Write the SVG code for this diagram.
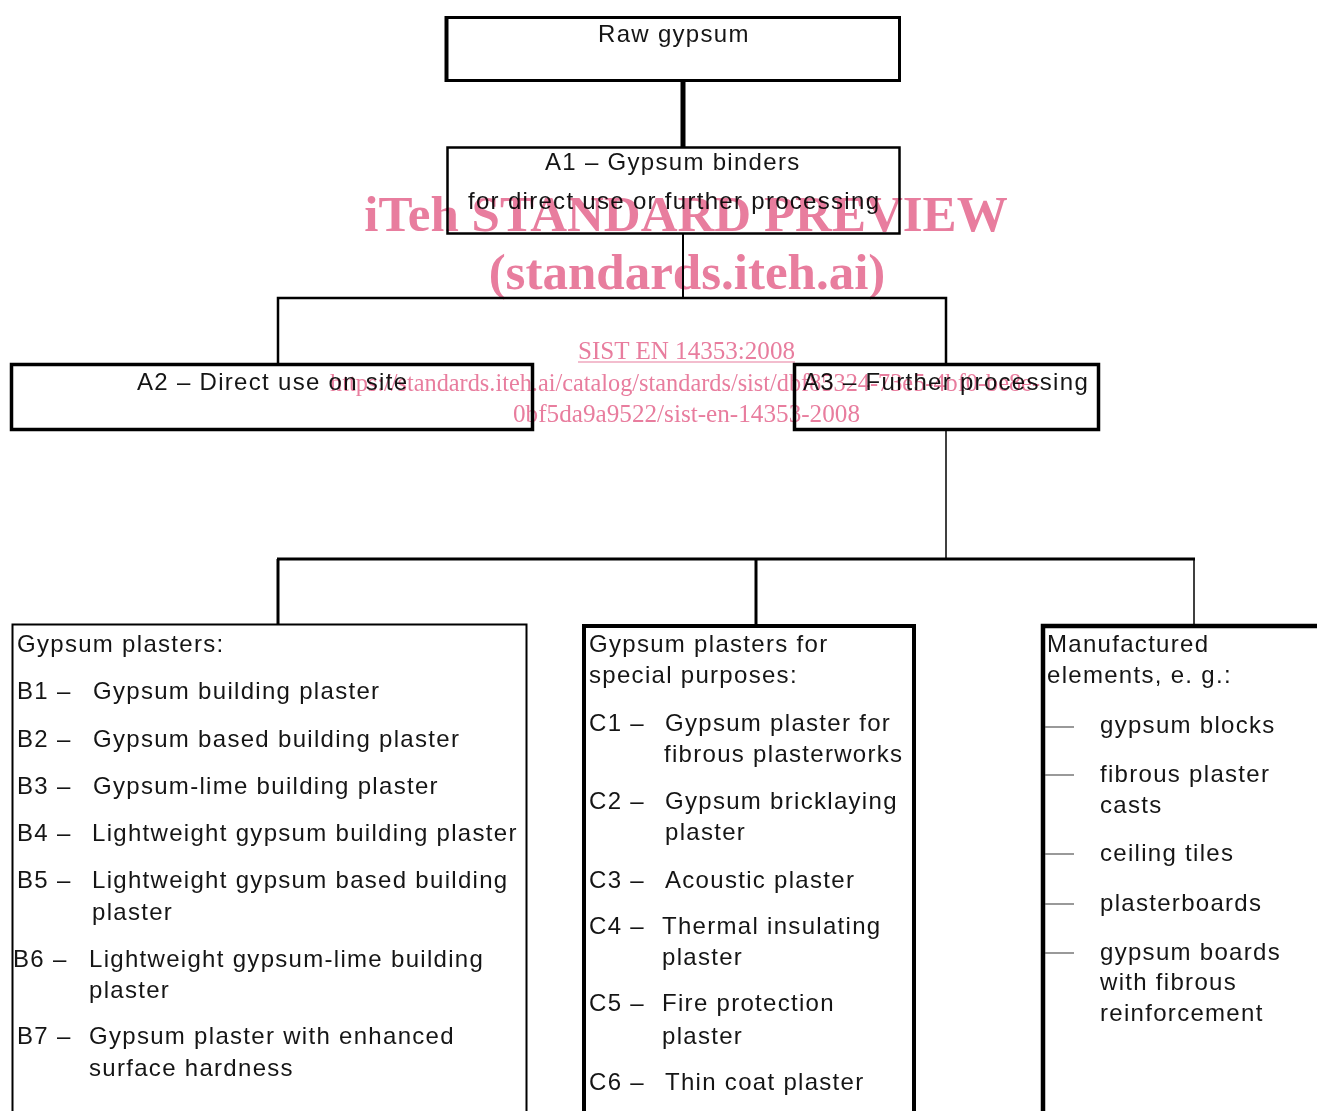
<svg xmlns="http://www.w3.org/2000/svg" width="1317" height="1111" viewBox="0 0 1317 1111">
<style>
  .t { font-family: "Liberation Sans", Arial, sans-serif; font-size: 24px; letter-spacing: 1.3px; fill: #151515; }
  .box { fill: #fff; stroke: #000; }
  .ln { stroke: #000; fill: none; }
  .dash { stroke: #555; stroke-width: 1.2; }
  .wm { font-family: "Liberation Serif", "Times New Roman", serif; fill: #E87D9E; }
  .wmb { font-weight: bold; font-size: 51px; }
  .wms { font-size: 25px; }
  #watermark { mix-blend-mode: multiply; }
</style>
<rect width="1317" height="1111" fill="#fff"/>
<g id="connectors">
  <line class="ln" x1="683" y1="81" x2="683" y2="147" stroke-width="5"/>
  <line class="ln" x1="683" y1="234" x2="683" y2="298" stroke-width="2"/>
  <polyline class="ln" points="278,364 278,298 946,298 946,364" stroke-width="2.5"/>
  <line class="ln" x1="946" y1="430" x2="946" y2="559" stroke-width="1.5"/>
  <line class="ln" x1="277" y1="559" x2="1195" y2="559" stroke-width="3"/>
  <line class="ln" x1="278" y1="559" x2="278" y2="624" stroke-width="3"/>
  <line class="ln" x1="756" y1="559" x2="756" y2="624" stroke-width="3"/>
  <line class="ln" x1="1194" y1="559" x2="1194" y2="624" stroke-width="1.5"/>
</g>
<g id="raw">
  <rect class="box" x="446.5" y="17.5" width="453" height="63" stroke-width="3"/>
  <line class="ln" x1="446.5" y1="16" x2="446.5" y2="82" stroke-width="4"/>
  <text class="t" x="598" y="42">Raw gypsum</text>
</g>
<g id="a1">
  <rect class="box" x="447.5" y="147.5" width="452" height="86" stroke-width="2.5"/>
  <text class="t" x="545" y="170">A1 – Gypsum binders</text>
  <text class="t" x="468" y="209">for direct use or further processing</text>
</g>
<g id="a2">
  <rect class="box" x="11.5" y="364.5" width="521" height="65" stroke-width="3.5"/>
  <text class="t" x="137" y="390">A2 – Direct use on site</text>
</g>
<g id="a3">
  <rect class="box" x="794.5" y="364.5" width="304" height="65" stroke-width="3.5"/>
  <text class="t" x="803" y="390">A3 – Further processing</text>
</g>
<g id="b">
  <rect class="box" x="12.5" y="624.5" width="514" height="500" stroke-width="2"/>
  <text class="t" x="17" y="652">Gypsum plasters:</text>
  <text class="t" x="17" y="699">B1 –</text><text class="t" x="93" y="699">Gypsum building plaster</text>
  <text class="t" x="17" y="747">B2 –</text><text class="t" x="93" y="747">Gypsum based building plaster</text>
  <text class="t" x="17" y="794">B3 –</text><text class="t" x="93" y="794">Gypsum-lime building plaster</text>
  <text class="t" x="17" y="841">B4 –</text><text class="t" x="92" y="841">Lightweight gypsum building plaster</text>
  <text class="t" x="17" y="888">B5 –</text><text class="t" x="92" y="888">Lightweight gypsum based building</text>
  <text class="t" x="92" y="920">plaster</text>
  <text class="t" x="13" y="967">B6 –</text><text class="t" x="89" y="967">Lightweight gypsum-lime building</text>
  <text class="t" x="89" y="998">plaster</text>
  <text class="t" x="17" y="1044">B7 –</text><text class="t" x="89" y="1044">Gypsum plaster with enhanced</text>
  <text class="t" x="89" y="1076">surface hardness</text>
</g>
<g id="c">
  <rect class="box" x="584" y="626" width="330" height="500" stroke-width="4"/>
  <text class="t" x="589" y="652">Gypsum plasters for</text>
  <text class="t" x="589" y="683">special purposes:</text>
  <text class="t" x="589" y="731">C1 –</text><text class="t" x="665" y="731">Gypsum plaster for</text>
  <text class="t" x="664" y="762">fibrous plasterworks</text>
  <text class="t" x="589" y="809">C2 –</text><text class="t" x="665" y="809">Gypsum bricklaying</text>
  <text class="t" x="665" y="840">plaster</text>
  <text class="t" x="589" y="888">C3 –</text><text class="t" x="665" y="888">Acoustic plaster</text>
  <text class="t" x="589" y="934">C4 –</text><text class="t" x="662" y="934">Thermal insulating</text>
  <text class="t" x="662" y="965">plaster</text>
  <text class="t" x="589" y="1011">C5 –</text><text class="t" x="662" y="1011">Fire protection</text>
  <text class="t" x="662" y="1044">plaster</text>
  <text class="t" x="589" y="1090">C6 –</text><text class="t" x="665" y="1090">Thin coat plaster</text>
</g>
<g id="d">
  <rect class="box" x="1043" y="626" width="300" height="500" stroke-width="4.5"/>
  <text class="t" x="1047" y="652">Manufactured</text>
  <text class="t" x="1047" y="683">elements, e. g.:</text>
  <line class="dash" x1="1045" y1="727" x2="1074" y2="727"/>
  <text class="t" x="1100" y="733">gypsum blocks</text>
  <line class="dash" x1="1045" y1="775" x2="1074" y2="775"/>
  <text class="t" x="1100" y="782">fibrous plaster</text>
  <text class="t" x="1100" y="813">casts</text>
  <line class="dash" x1="1045" y1="854" x2="1074" y2="854"/>
  <text class="t" x="1100" y="861">ceiling tiles</text>
  <line class="dash" x1="1045" y1="904" x2="1074" y2="904"/>
  <text class="t" x="1100" y="911">plasterboards</text>
  <line class="dash" x1="1045" y1="953" x2="1074" y2="953"/>
  <text class="t" x="1100" y="960">gypsum boards</text>
  <text class="t" x="1100" y="990">with fibrous</text>
  <text class="t" x="1100" y="1021">reinforcement</text>
</g>
<g id="watermark">
  <text class="wm wmb" x="686" y="231" text-anchor="middle">iTeh STANDARD PREVIEW</text>
  <text class="wm wmb" x="687" y="289" text-anchor="middle">(standards.iteh.ai)</text>
  <text class="wm wms" x="578" y="359" textLength="217" lengthAdjust="spacingAndGlyphs">SIST EN 14353:2008</text>
  <line x1="578" y1="362" x2="795" y2="362" stroke="#E87D9E" stroke-width="1.2"/>
  <text class="wm wms" x="330" y="391" textLength="710" lengthAdjust="spacingAndGlyphs">https://standards.iteh.ai/catalog/standards/sist/dbf85324-73e5-4bf0-be8e-</text>
  <text class="wm wms" x="513" y="422" textLength="347" lengthAdjust="spacingAndGlyphs">0bf5da9a9522/sist-en-14353-2008</text>
</g>
</svg>
